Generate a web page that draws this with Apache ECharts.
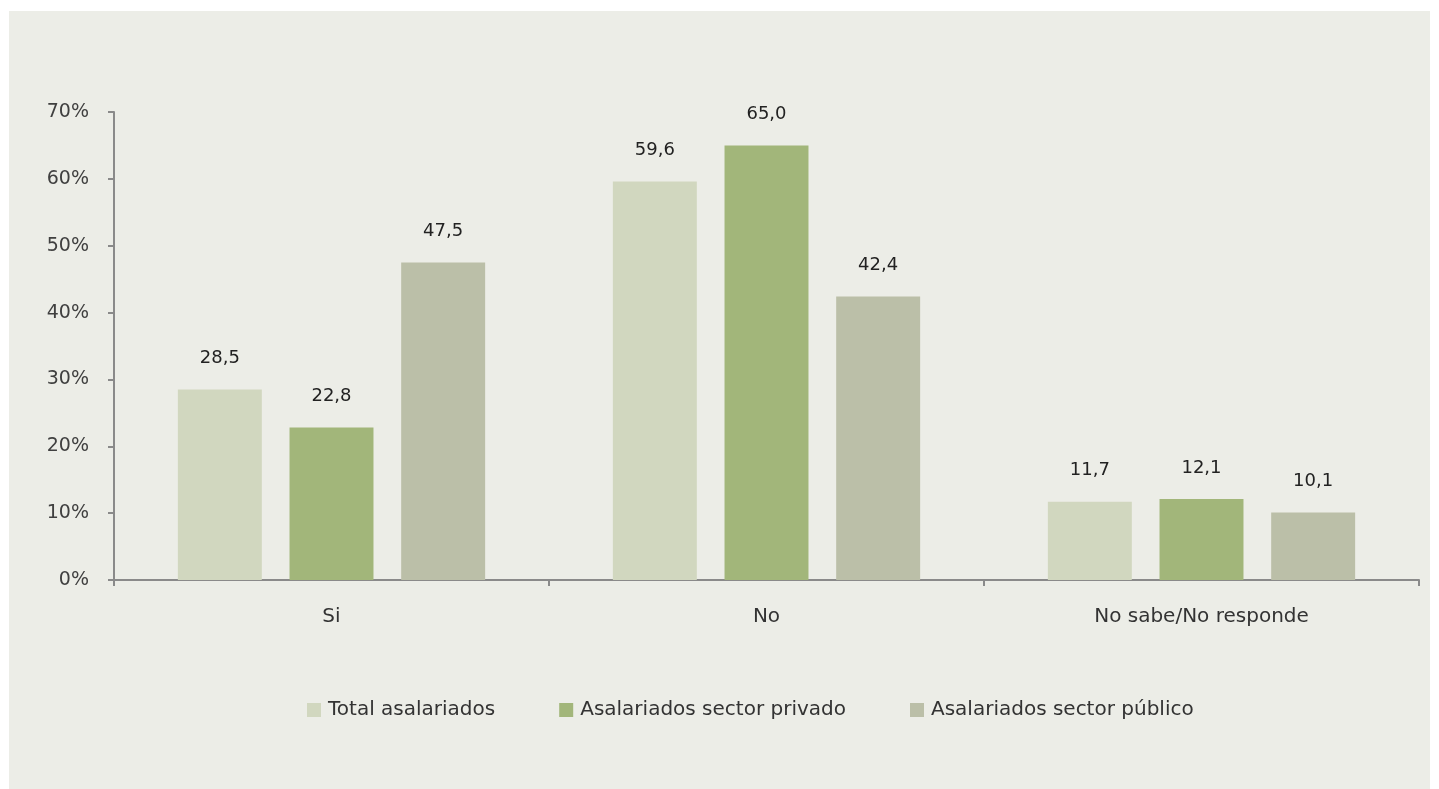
<!DOCTYPE html>
<html><head><meta charset="utf-8">
<script src="https://cdn.jsdelivr.net/npm/echarts@6/dist/echarts.min.js"></script>
<style>
html,body{margin:0;padding:0;background:#ffffff;}
#c{position:absolute;left:9px;top:11px;width:1421px;height:778px;background:#ECEDE7;}
</style></head><body>
<div id="c"></div>
<script>
const categories = ['Si', 'No', 'No sabe/No responde'];
const seriesNames = ['Total asalariados', 'Asalariados sector privado', 'Asalariados sector público'];
const totalAsalariados = [28.5, 59.6, 11.7];
const sectorPrivado = [22.8, 65.0, 12.1];
const sectorPublico = [47.5, 42.4, 10.1];
const colors = ['#D1D7BF', '#A2B67A', '#BBBFA8'];

const chart = echarts.init(document.getElementById('c'));
const fmt = v => v.toFixed(1).replace('.', ',');
const mk = (name, data, color) => ({
  name, type: 'bar', data, barWidth: '19.3%', barGap: '33%',
  itemStyle: {color},
  label: {show: true, position: 'top', distance: 22, color: '#222', fontSize: 18,
    fontFamily: 'DejaVu Sans', formatter: p => fmt(p.value)}
});
chart.setOption({
  animation: false,
  textStyle: {fontFamily: 'DejaVu Sans'},
  grid: {left: 105, right: 11, top: 101, bottom: 209},
  legend: {bottom: 64, left: 293, itemWidth: 14, itemHeight: 14, itemGap: 64,
    icon: 'rect', textStyle: {color: '#333', fontSize: 20, padding: [0, 0, 0, 2]}, data: seriesNames},
  xAxis: {type: 'category', data: categories,
    axisLine: {lineStyle: {color: '#8a8a8a', width: 2}},
    axisTick: {show: true, length: 6, lineStyle: {color: '#8a8a8a', width: 2}},
    axisLabel: {color: '#333', fontSize: 20, margin: 27}},
  yAxis: {type: 'value', min: 0, max: 70, interval: 10,
    axisLine: {show: true, lineStyle: {color: '#8a8a8a', width: 2}},
    axisTick: {show: true, length: 6, lineStyle: {color: '#8a8a8a', width: 2}},
    splitLine: {show: false},
    axisLabel: {color: '#404040', fontSize: 19, margin: 25, formatter: '{value}%'}},
  series: [
    mk(seriesNames[0], totalAsalariados, colors[0]),
    mk(seriesNames[1], sectorPrivado, colors[1]),
    mk(seriesNames[2], sectorPublico, colors[2])
  ]
});
</script></body></html>
